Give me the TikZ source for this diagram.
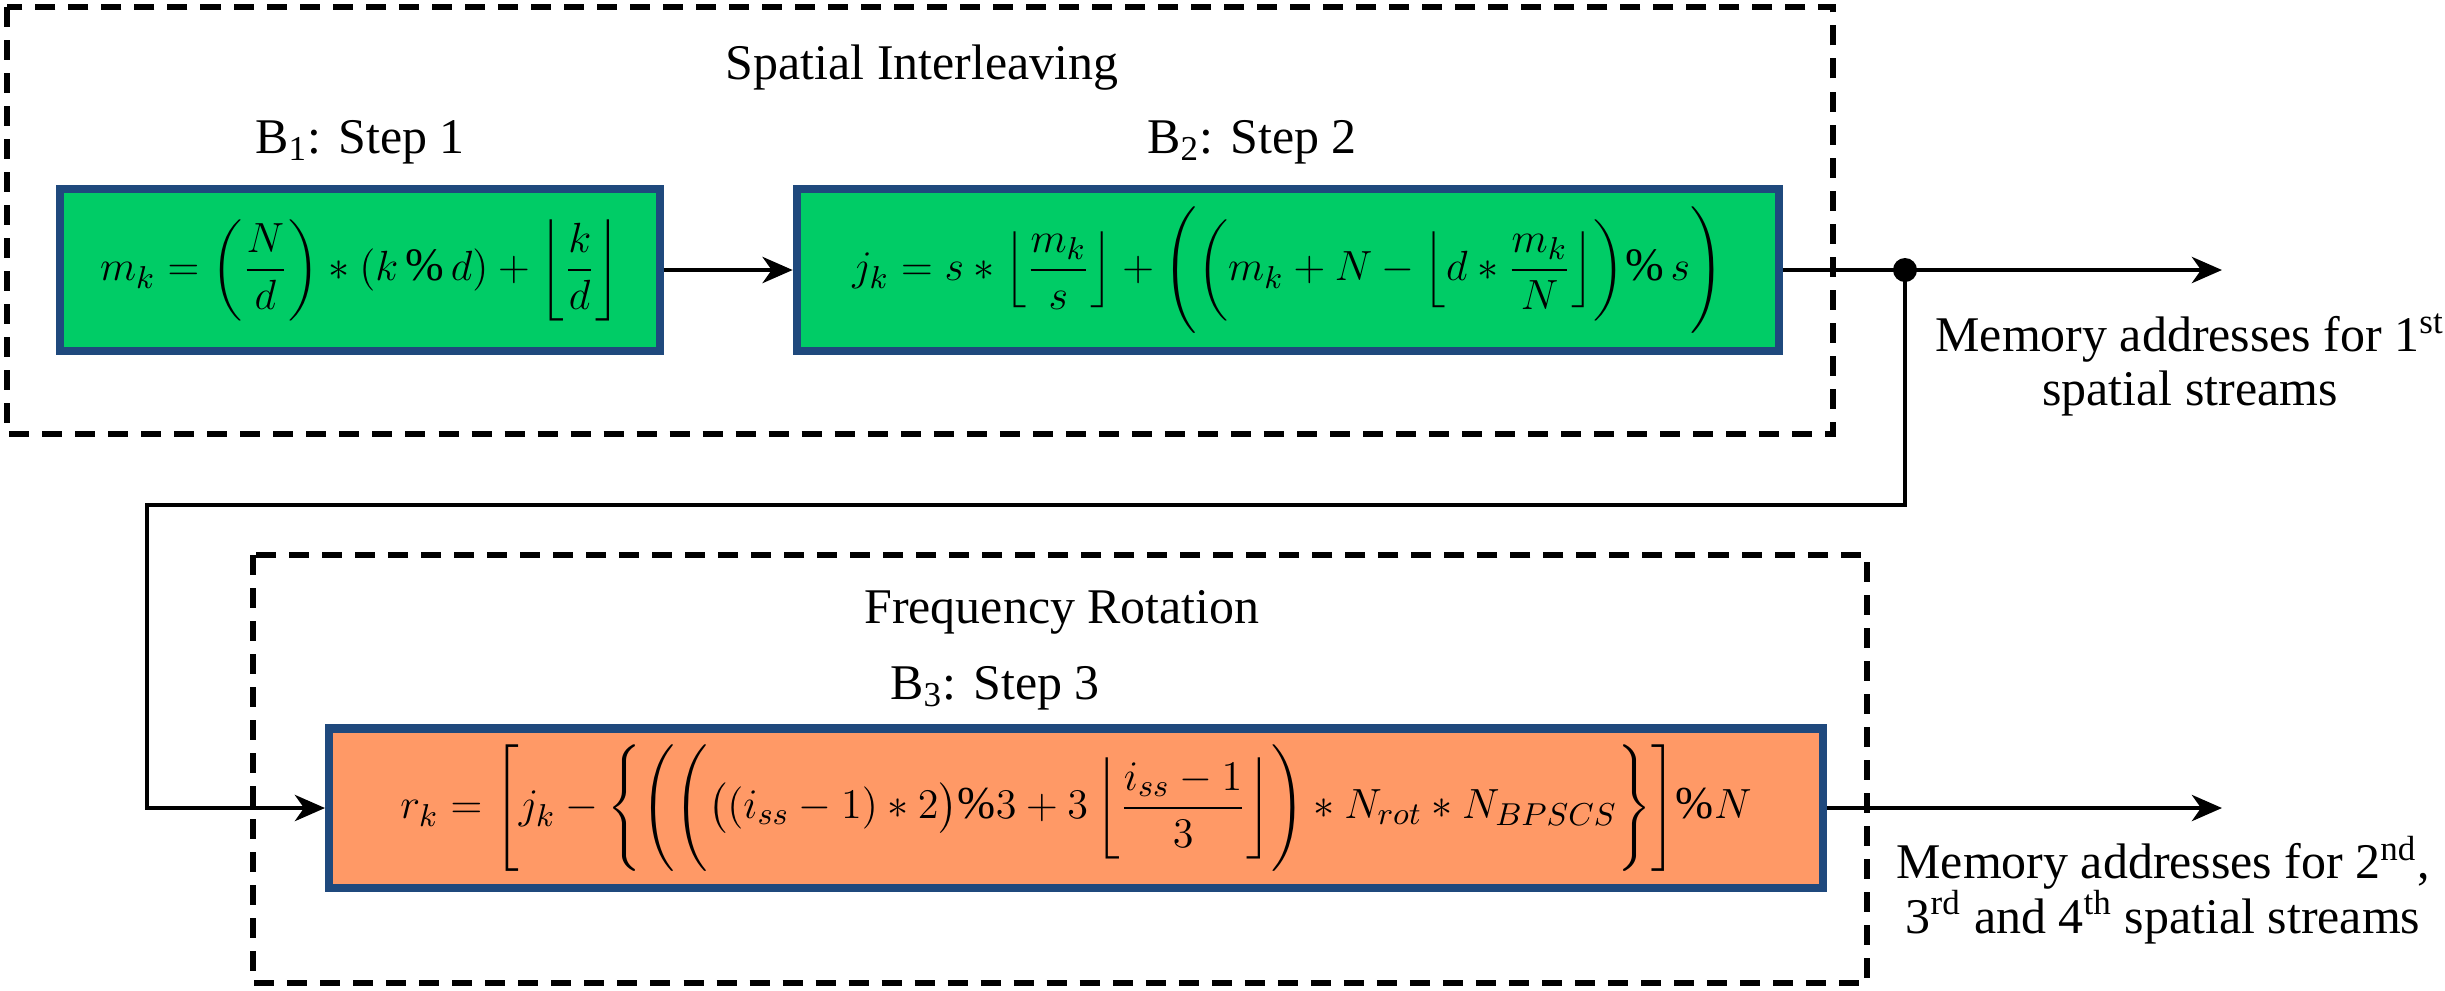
\documentclass[tikz,border=0pt]{standalone}
\usepackage{amsmath}
\usepackage{fontspec}
\setmainfont{Liberation Serif}
\usepackage{tikz}
\usetikzlibrary{arrows,arrows.meta}

\definecolor{stepgreen}{RGB}{0,204,102}
\definecolor{steporange}{RGB}{255,153,102}
\definecolor{stepblue}{RGB}{31,73,125}

\begin{document}
\begin{tikzpicture}[->,>={Stealth[length=0.3cm,width=0.26cm,inset=0.09cm]},
                    x=0.01cm,y=-0.01cm,line width=1.4pt,
                    block/.style={draw=stepblue,line width=2.3pt,inner sep=0pt,
                                  minimum height=1.62cm,
                                  font=\fontsize{13.2}{16}\selectfont},
                    group/.style={-,draw,line width=1.7pt,
                                  dash pattern=on 0.2cm off 0.13cm},
                    lbl/.style={font=\fontsize{14.2}{15.5}\selectfont,align=center}]
  \useasboundingbox (0,0) rectangle (2445,990);

  % dashed groups
  \draw[group] (7,7) rectangle (1833,434);
  \draw[group] (253,555) rectangle (1867,983);

  \node[lbl] (SI) at (922,68)   {Spatial Interleaving};
  \node[lbl] (S1) at (360,142)  {B\textsubscript{1}: Step 1};
  \node[lbl] (S2) at (1252,142) {B\textsubscript{2}: Step 2};
  \node[lbl] (FR) at (1062,612) {Frequency Rotation};
  \node[lbl] (S3) at (995,688)  {B\textsubscript{3}: Step 3};

  \node[block,fill=stepgreen,minimum width=5.99cm] (B1) at (360,270)
    {$\displaystyle m_k=\left(\frac{N}{d}\right)\ast(k\,\%\,d)+\left\lfloor\frac{k}{d}\right\rfloor$};
  \node[block,fill=stepgreen,minimum width=9.82cm] (B2) at (1288,270)
    {$\displaystyle j_k=s\ast\left\lfloor\frac{m_k}{s}\right\rfloor+\Biggl(\biggl(m_k+N-\left\lfloor d\ast\frac{m_k}{N}\right\rfloor\biggr)\%\,s\Biggr)$};
  \node[block,fill=steporange,minimum width=14.93cm,minimum height=1.59cm,
        font=\fontsize{13}{16}\selectfont] (B3) at (1076,808)
    {$\displaystyle r_k=\Biggl[j_k-\Biggl\{\Biggl(\Biggl(\bigl((i_{ss}-1)\ast2\bigr)\%3+3\left\lfloor\frac{i_{ss}-1}{3}\right\rfloor\Biggr)\ast N_{rot}\ast N_{BPSCS}\Biggr\}\Biggr]\%N$};

  \coordinate (J)  at (1905,270);
  \coordinate (E1) at (2222,270);
  \coordinate (T1) at (1905,505);
  \coordinate (T2) at (147,505);
  \coordinate (E2) at (2222,808);

  \node[lbl] (M1) at (2190,365) {Memory addresses for 1\textsuperscript{st}\\spatial streams};
  \node[lbl] (M2) at (2163,890) {Memory addresses for 2\textsuperscript{nd},\\3\textsuperscript{rd} and 4\textsuperscript{th} spatial streams};

  \path (B1) edge (B2);
  \draw[-] (B2.east) -- (J);
  \draw (J) -- (E1);
  \fill (J) circle (12);
  \draw (J) -- (T1) -- (T2) |- (B3.west);
  \draw (B3.east) -- (E2);

\end{tikzpicture}
\end{document}
